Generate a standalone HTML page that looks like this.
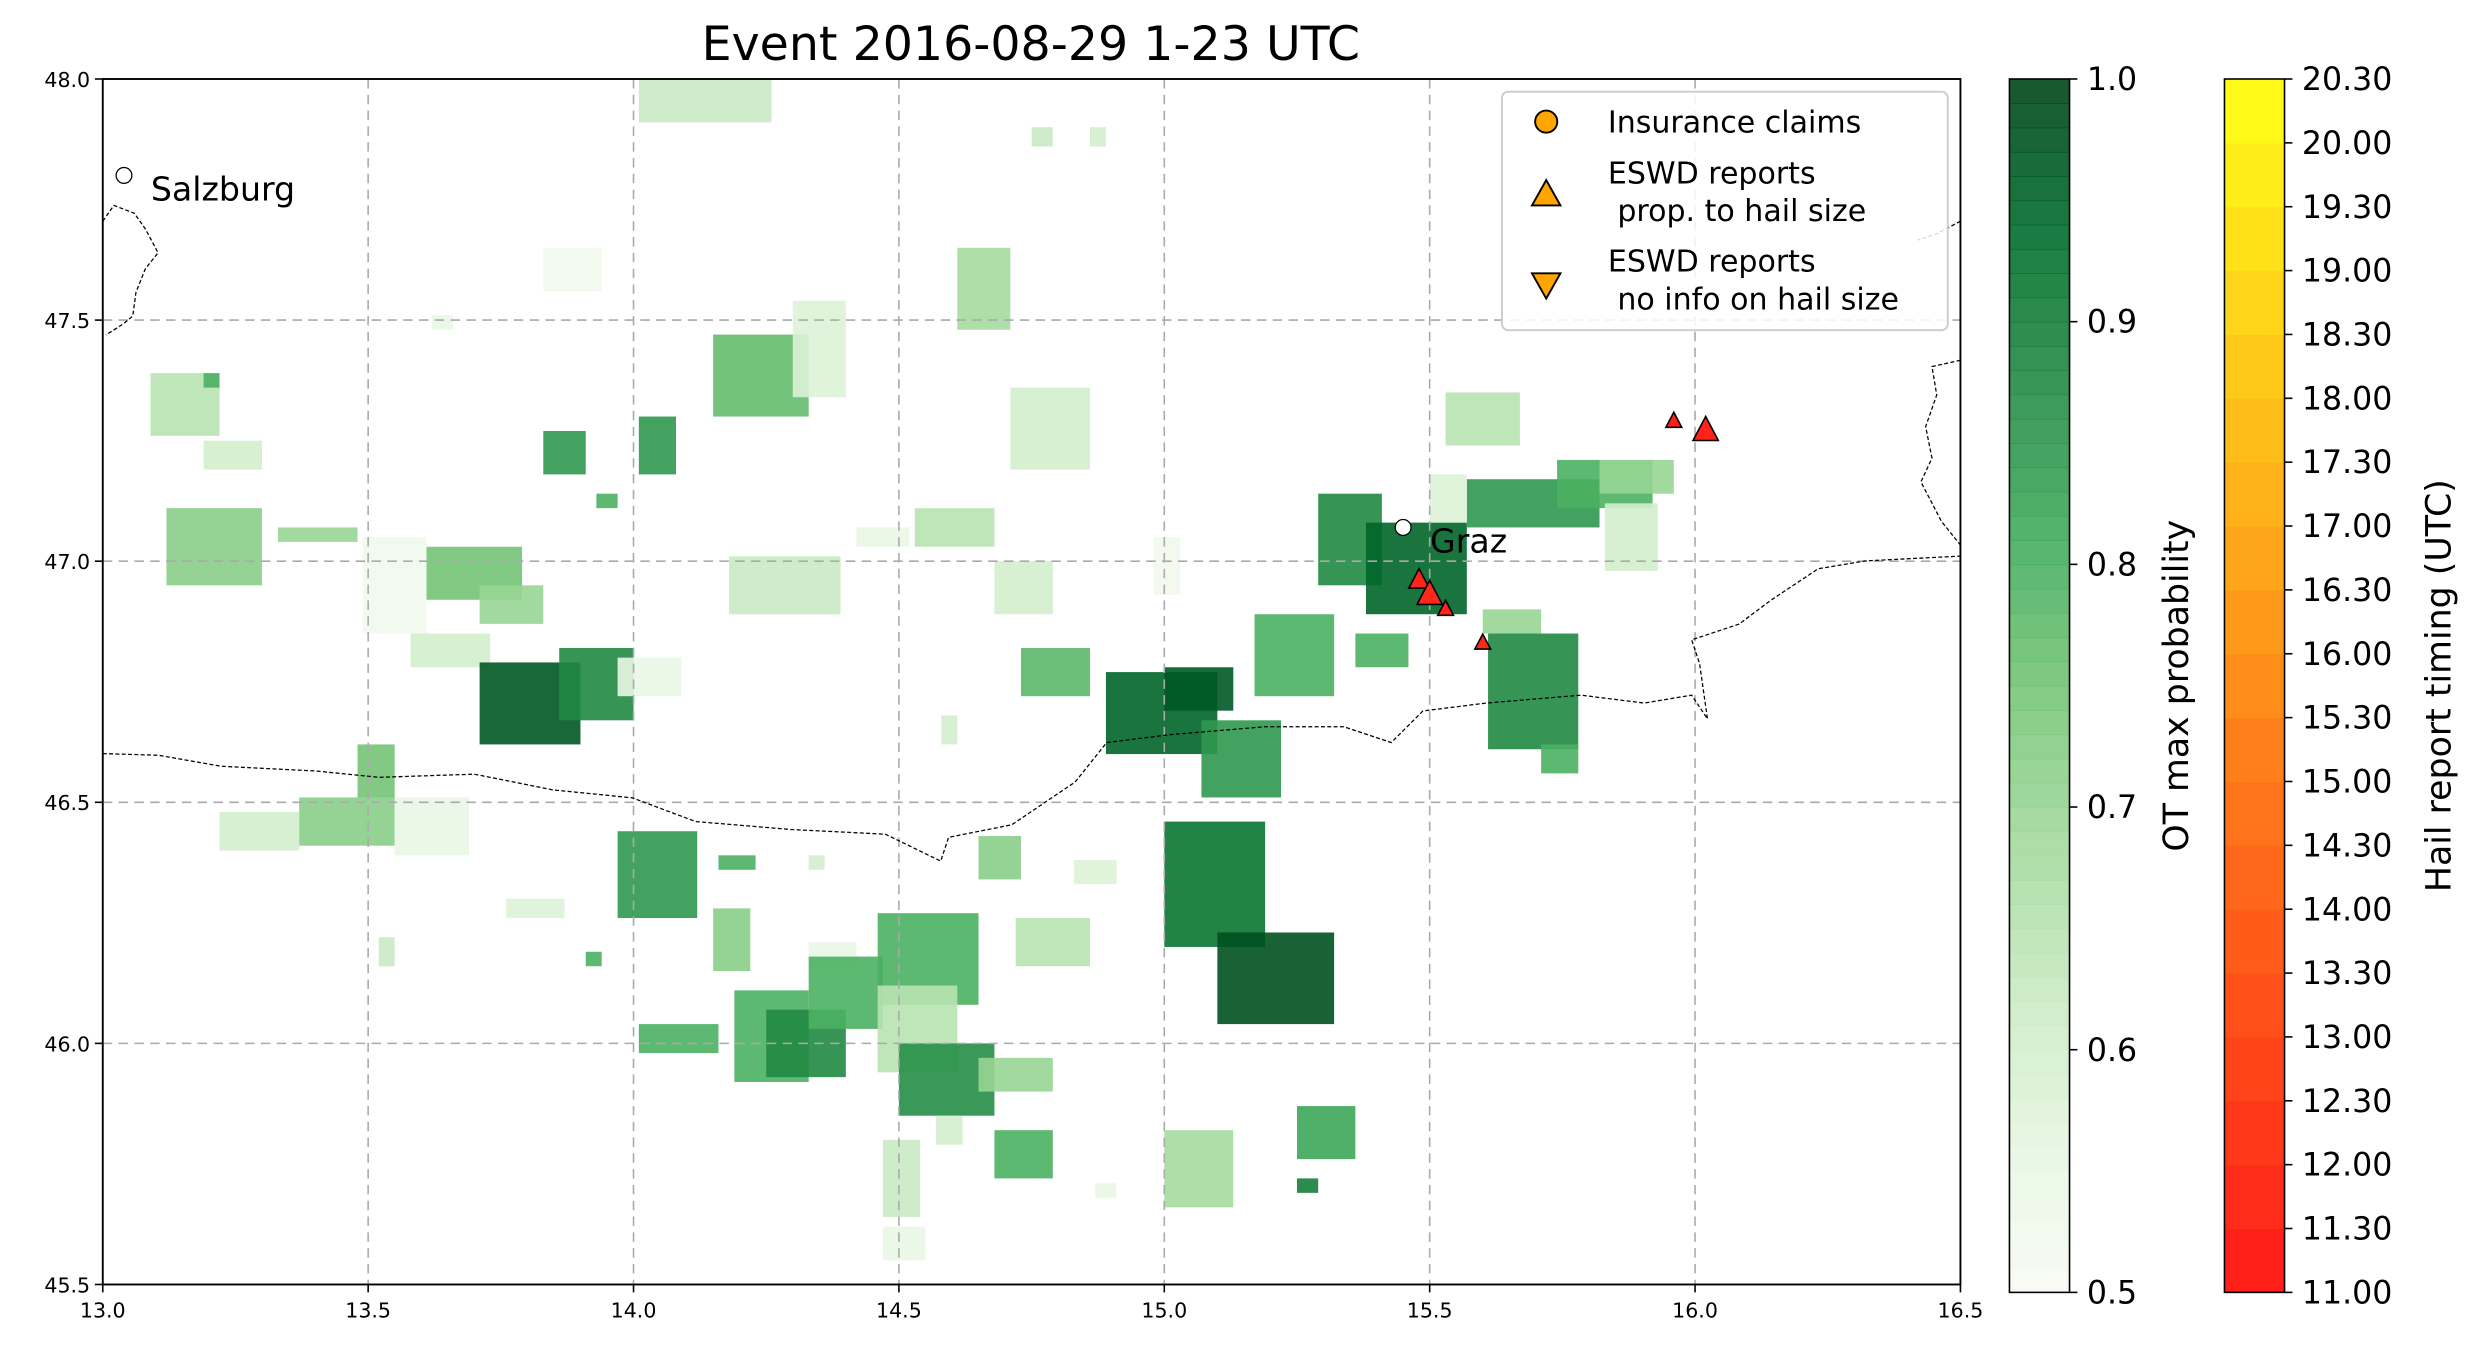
<!DOCTYPE html>
<html><head><meta charset="utf-8"><style>
html,body{margin:0;padding:0;background:#fff;}
svg{display:block;font-family:"DejaVu Sans","Liberation Sans",sans-serif;}
</style></head><body>
<svg id="chart" width="2479" height="1354" viewBox="0 0 1568 857" preserveAspectRatio="none" xmlns="http://www.w3.org/2000/svg">
<text x="652" y="38" font-size="30" text-anchor="middle">Event 2016-08-29 1-23 UTC</text>
<g id="cells"></g>
<g id="grid"></g>
<g id="borders" fill="none" stroke="#000" stroke-width="0.8" stroke-dasharray="2.5,1.5"></g>
<g id="marks"></g>
<g id="cities"></g>
<rect x="65" y="50" width="1175" height="763" fill="none" stroke="#000" stroke-width="1.2"/>
<g id="axes" font-size="13"></g>
<g>
<rect x="950" y="58" width="282" height="151" rx="4" fill="#fff" fill-opacity="0.85" stroke="#ccc" stroke-width="1.2"/>
<circle cx="978" cy="77" r="7" fill="#ffa500" stroke="#000" stroke-width="1.2"/>
<text x="1017" y="84" font-size="19">Insurance claims</text>
<polygon points="978,114 969,130 987,130" fill="#ffa500" stroke="#000" stroke-width="1.2"/>
<text x="1017" y="116" font-size="19">ESWD reports</text>
<text x="1023" y="140" font-size="19">prop. to hail size</text>
<polygon points="969,173 987,173 978,189" fill="#ffa500" stroke="#000" stroke-width="1.2"/>
<text x="1017" y="172" font-size="19">ESWD reports</text>
<text x="1023" y="196" font-size="19">no info on hail size</text>
</g>
<g id="cbar1"></g>
<g id="cbar2"></g>
<text transform="translate(1384,434) rotate(-90)" font-size="22" text-anchor="middle">OT max probability</text>
<text transform="translate(1550,434) rotate(-90)" font-size="22" text-anchor="middle">Hail report timing (UTC)</text>
</svg>
<script>
// cells: [lonW, lonE, latN, latS]
const cellLonW=[14.01,13.83,14.15,14.30,14.61,14.71,13.09,13.19,13.12,13.33,13.61,13.71,13.49,13.58,13.83,14.01,13.93,13.71,13.86,13.97,13.48,13.37,13.22,13.55,13.97,14.16,13.76,14.15,14.33,14.46,14.01,14.19,14.25,14.33,14.46,14.50,14.65,14.57,14.47,14.47,14.68,14.72,15.00,15.25,15.25,14.83,14.65,14.73,14.68,14.53,14.42,14.18,14.89,15.00,15.07,15.00,15.10,15.17,15.36,15.29,15.38,15.57,15.74,15.82,15.53,15.83,15.61,15.71,15.60,15.50,14.98,14.58,13.52,13.91,14.75,14.86,13.62,13.19,14.33,14.87];
const cellLonE=[14.26,13.94,14.33,14.40,14.71,14.86,13.22,13.30,13.30,13.48,13.79,13.83,13.61,13.73,13.91,14.08,13.97,13.90,14.00,14.09,13.55,13.55,13.37,13.69,14.12,14.23,13.87,14.22,14.42,14.65,14.16,14.33,14.40,14.47,14.61,14.68,14.79,14.62,14.54,14.55,14.79,14.86,15.13,15.36,15.29,14.91,14.73,14.86,14.79,14.68,14.52,14.39,15.10,15.13,15.22,15.19,15.32,15.32,15.46,15.41,15.57,15.82,15.92,15.96,15.67,15.93,15.78,15.78,15.71,15.57,15.03,14.61,13.55,13.94,14.79,14.89,13.66,13.22,14.36,14.91];
const cellLatN=[48.00,47.65,47.47,47.54,47.65,47.36,47.39,47.25,47.11,47.07,47.03,46.95,47.05,46.85,47.27,47.30,47.14,46.79,46.82,46.80,46.62,46.51,46.48,46.51,46.44,46.39,46.30,46.28,46.21,46.27,46.04,46.11,46.07,46.18,46.12,46.00,45.97,45.85,45.80,45.62,45.82,46.26,45.82,45.87,45.72,46.38,46.43,46.82,47.00,47.11,47.07,47.01,46.77,46.78,46.67,46.46,46.23,46.89,46.85,47.14,47.08,47.17,47.21,47.21,47.35,47.12,46.85,46.62,46.90,47.18,47.05,46.68,46.22,46.19,47.90,47.90,47.51,47.39,46.39,45.71];
const cellLatS=[47.91,47.56,47.30,47.34,47.48,47.19,47.26,47.19,46.95,47.04,46.92,46.87,46.85,46.78,47.18,47.18,47.11,46.62,46.67,46.72,46.51,46.41,46.40,46.39,46.26,46.36,46.26,46.15,46.15,46.08,45.98,45.92,45.93,46.03,45.94,45.85,45.90,45.79,45.64,45.55,45.72,46.16,45.66,45.76,45.69,46.33,46.34,46.72,46.89,47.03,47.03,46.89,46.60,46.69,46.51,46.20,46.04,46.72,46.78,46.95,46.89,47.07,47.11,47.14,47.24,46.98,46.61,46.56,46.85,47.08,46.93,46.62,46.16,46.16,47.86,47.86,47.48,47.36,46.36,45.68];
const cellProb=[0.62,0.52,0.77,0.58,0.68,0.60,0.65,0.60,0.72,0.70,0.75,0.70,0.52,0.60,0.85,0.85,0.80,0.97,0.88,0.55,0.75,0.72,0.60,0.55,0.85,0.80,0.58,0.72,0.55,0.80,0.80,0.80,0.88,0.80,0.65,0.87,0.70,0.60,0.62,0.55,0.80,0.65,0.68,0.82,0.90,0.58,0.72,0.78,0.60,0.65,0.55,0.62,0.95,0.97,0.85,0.92,0.98,0.80,0.80,0.88,0.95,0.85,0.80,0.70,0.65,0.60,0.88,0.80,0.70,0.58,0.52,0.60,0.62,0.80,0.62,0.60,0.55,0.80,0.60,0.55];
// hail reports
const repLon=[15.96,16.02,15.48,15.50,15.53,15.60];
const repLat=[47.29,47.27,46.96,46.93,46.90,46.83];
const repSize=[1.0,1.6,1.3,1.6,1.0,1.0];
const repTime=[11.2,11.3,11.4,11.6,11.4,11.5];
const cityNames=["Salzburg","Graz"];
const cityLon=[13.04,15.45];
const cityLat=[47.80,47.07];
const xTicks=[13.0,13.5,14.0,14.5,15.0,15.5,16.0,16.5];
const yTicks=[45.5,46.0,46.5,47.0,47.5,48.0];
const probTicks=[0.5,0.6,0.7,0.8,0.9,1.0];
const timeTicks=["11.00","11.30","12.00","12.30","13.00","13.30","14.00","14.30","15.00","15.30","16.00","16.30","17.00","17.30","18.00","18.30","19.00","19.30","20.00","20.30"];

const NS="http://www.w3.org/2000/svg";
const X0=65,X1=1240,Y0=50,Y1=813;
const sx=l=>X0+(l-13)/(16.5-13)*(X1-X0);
const sy=l=>Y1-(l-45.5)/(48-45.5)*(Y1-Y0);
function mk(tag,attrs,parent){const e=document.createElementNS(NS,tag);for(const k in attrs)e.setAttribute(k,attrs[k]);parent.appendChild(e);return e;}
const greens=[[247,252,245],[229,245,224],[199,233,192],[161,217,155],[116,196,118],[65,171,93],[35,139,69],[0,109,44],[0,68,27]];
function green(p){let f=Math.max(0,Math.min(1,(p-0.5)/0.5))*8;const i=Math.min(7,Math.floor(f)),t=f-i;const a=greens[i],b=greens[i+1];return `rgb(${a.map((v,j)=>Math.round(v+(b[j]-v)*t)).join(',')})`;}
function timeColor(t){const f=Math.max(0,Math.min(1,(t-11)/(20.5-11)));return `rgb(255,${Math.round(26+f*229)},26)`;}

const cells=document.getElementById('cells');
for(let i=0;i<cellProb.length;i++){
 const r=mk('rect',{x:sx(cellLonW[i]),y:sy(cellLatN[i]),width:sx(cellLonE[i])-sx(cellLonW[i]),height:sy(cellLatS[i])-sy(cellLatN[i]),fill:green(cellProb[i]),'fill-opacity':0.9},cells);
 
 
}
const grid=document.getElementById('grid');
xTicks.slice(1,-1).forEach(v=>{const l=mk('line',{x1:sx(v),x2:sx(v),y1:Y0,y2:Y1,stroke:'#aaa','stroke-width':1,'stroke-dasharray':'6,4'},grid);});
yTicks.slice(1,-1).forEach(v=>{const l=mk('line',{x1:X0,x2:X1,y1:sy(v),y2:sy(v),stroke:'#aaa','stroke-width':1,'stroke-dasharray':'6,4'},grid);});

const borders=document.getElementById('borders');
["M65,477 L100,478 140,485 200,488 240,492 300,490 350,500 400,505 440,520 500,525 560,528 595,545 600,530 640,522 680,495 700,470 740,465 800,460 850,460 880,470 900,450 940,445 1000,440 1040,445 1070,440 1080,455 1075,420 1070,405 1100,395 1120,380 1150,360 1180,355 1240,352",
 "M65,140 L72,130 85,135 92,145 100,160 92,170 86,185 84,200 78,205 67,212",
 "M1240,140 L1225,148 1213,152",
 "M1240,228 L1222,232 1225,250 1218,270 1222,290 1215,305 1228,330 1240,345"].forEach(d=>{const p=mk('path',{d},borders);});

const marks=document.getElementById('marks');
for(let i=0;i<repLon.length;i++){
 const cx=sx(repLon[i]),cy=sy(repLat[i]),s=5*repSize[i];
 const t=mk('polygon',{points:`${cx},${cy-s*1.15} ${cx-s},${cy+s*0.75} ${cx+s},${cy+s*0.75}`,fill:timeColor(repTime[i]),stroke:'#000','stroke-width':1},marks);
 
 
}
const cities=document.getElementById('cities');
for(let i=0;i<cityNames.length;i++){
 const c=mk('circle',{cx:sx(cityLon[i]),cy:sy(cityLat[i]),r:5,fill:'#fff',stroke:'#000','stroke-width':0.8},cities);
 
 
 const t=mk('text',{x:sx(cityLon[i])+17,y:sy(cityLat[i])+16,'font-size':21},cities);t.textContent=cityNames[i];
 
 
}
const axes=document.getElementById('axes');
xTicks.forEach(v=>{mk('line',{x1:sx(v),x2:sx(v),y1:Y1,y2:Y1+5,stroke:'#000'},axes);const t=mk('text',{x:sx(v),y:Y1+21,'text-anchor':'middle'},axes);t.textContent=v.toFixed(1);});
yTicks.forEach(v=>{mk('line',{x1:X0-5,x2:X0,y1:sy(v),y2:sy(v),stroke:'#000'},axes);const t=mk('text',{x:X0-8,y:sy(v)+5,'text-anchor':'end'},axes);t.textContent=v.toFixed(1);});

// colorbar 1
const c1=document.getElementById('cbar1');const CX=1271,CW=38,CT=50,CB=818;
const N=50;for(let i=0;i<N;i++){const p0=0.5+0.5*i/N;const h=(CB-CT)/N;mk('rect',{x:CX,y:CB-(i+1)*h,width:CW,height:h+0.5,fill:green(p0+0.005),'fill-opacity':0.9},c1);}
mk('rect',{x:CX,y:CT,width:CW,height:CB-CT,fill:'none',stroke:'#000','stroke-width':1},c1);
probTicks.forEach(v=>{const y=CB-(v-0.5)/0.5*(CB-CT);mk('line',{x1:CX+CW,x2:CX+CW+5,y1:y,y2:y,stroke:'#000'},c1);const t=mk('text',{x:CX+CW+11,y:y+7,'font-size':20},c1);t.textContent=v.toFixed(1);});
// colorbar 2
const c2=document.getElementById('cbar2');const HX=1407,HW=38;const nb=timeTicks.length-1;const hh=(CB-CT)/nb;
for(let i=0;i<nb;i++){const tv=11+(i+0.5)*0.5;mk('rect',{x:HX,y:CB-(i+1)*hh,width:HW,height:hh+0.3,fill:timeColor(tv)},c2);}
mk('rect',{x:HX,y:CT,width:HW,height:CB-CT,fill:'none',stroke:'#000','stroke-width':1},c2);
timeTicks.forEach((lab,i)=>{const y=CB-i*hh;mk('line',{x1:HX+HW,x2:HX+HW+5,y1:y,y2:y,stroke:'#000'},c2);const t=mk('text',{x:HX+HW+11,y:y+7,'font-size':20},c2);t.textContent=lab;});
</script>
</body></html>
